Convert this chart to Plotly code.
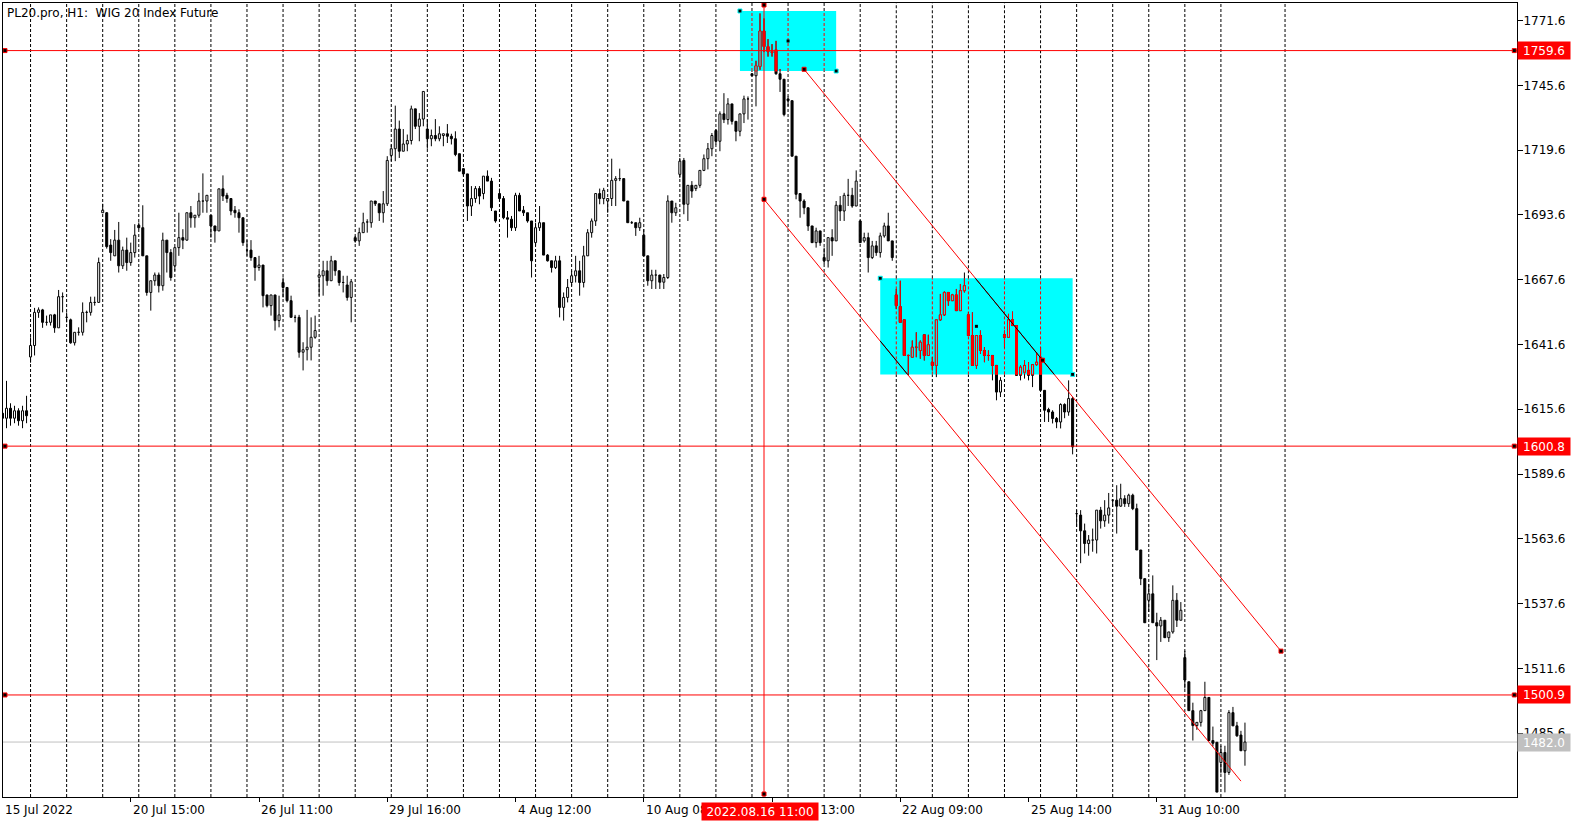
import plotly.graph_objects as go

# ---------------- data ----------------
trading_days = ["2022-07-15", "2022-07-18", "2022-07-19", "2022-07-20", "2022-07-21", "2022-07-22",
                "2022-07-25", "2022-07-26", "2022-07-27", "2022-07-28", "2022-07-29",
                "2022-08-01", "2022-08-02", "2022-08-03", "2022-08-04", "2022-08-05",
                "2022-08-08", "2022-08-09", "2022-08-10", "2022-08-11", "2022-08-12",
                "2022-08-16", "2022-08-17", "2022-08-18", "2022-08-19",
                "2022-08-22", "2022-08-23", "2022-08-24", "2022-08-25", "2022-08-26",
                "2022-08-29", "2022-08-30", "2022-08-31", "2022-09-01", "2022-09-02"]
session_hours = [8, 9, 10, 11, 12, 13, 14, 15, 16]
first_bar_time = "2022-07-15 10:00"
last_bar_time = "2022-09-02 14:00"

opens = [
    1614.0, 1612.0, 1616.0, 1612.0, 1615.0, 1611.0, 1615.0,
    1636.6, 1641.2, 1654.5, 1655.5, 1650.5, 1650.5, 1653.5, 1648.3, 1660.8,
    1652.5, 1651.5, 1642.3, 1646.5, 1646.5, 1654.5, 1654.5, 1658.5, 1658.5,
    1694.5, 1694.5, 1681.5, 1677.2, 1683.5, 1673.2, 1679.5, 1674.5, 1678.5,
    1689.5, 1688.5, 1677.2, 1662.5, 1667.2, 1669.5, 1665.2, 1683.5, 1678.5,
    1673.2, 1680.5, 1684.5, 1683.5, 1694.5, 1692.5, 1693.5, 1699.2, 1699.2,
    1693.5, 1689.2, 1687.2, 1704.1, 1701.5, 1700.2, 1695.5, 1694.5, 1692.5,
    1679.5, 1679.5, 1676.5, 1672.5, 1673.5, 1661.5, 1657.2, 1661.5, 1651.2,
    1666.5, 1664.5, 1659.2, 1652.5, 1652.5, 1638.5, 1639.5, 1640.5, 1644.5,
    1668.6, 1669.2, 1671.2, 1667.2, 1675.2, 1671.2, 1666.5, 1665.5, 1660.5,
    1684.5, 1683.2, 1686.5, 1690.8, 1690.5, 1699.2, 1698.1, 1694.5, 1698.1,
    1717.5, 1720.2, 1728.1, 1719.2, 1722.1, 1723.5, 1736.2, 1729.2, 1732.1,
    1728.1, 1724.2, 1725.5, 1724.2, 1725.5, 1726.2, 1725.2, 1724.2, 1718.2,
    1712.2, 1710.1, 1697.2, 1700.2, 1704.2, 1702.2, 1709.2, 1707.2, 1695.2,
    1702.2, 1700.2, 1692.5, 1691.9, 1688.5, 1701.5, 1695.5, 1694.5, 1691.2,
    1682.5, 1688.5, 1690.5, 1677.5, 1675.2, 1672.5, 1675.2, 1656.5, 1660.5,
    1666.5, 1669.2, 1671.2, 1666.5, 1677.2, 1686.5, 1691.2, 1702.2, 1700.2,
    1699.2, 1700.2, 1707.5, 1708.2, 1708.2, 1699.2, 1690.5, 1690.5, 1688.5,
    1685.5, 1677.2, 1667.2, 1669.5, 1669.5, 1666.6, 1668.5, 1699.2, 1694.5,
    1709.9, 1715.5, 1697.9, 1705.5, 1704.2, 1705.5, 1711.5, 1716.2, 1720.2,
    1727.5, 1723.2, 1734.2, 1731.9, 1738.2, 1731.2, 1727.2, 1734.2, 1740.2,
    1750.3, 1749.5, 1753.2, 1767.5, 1761.2, 1759.2, 1759.9, 1750.3, 1748.1,
    1740.2, 1739.5, 1717.2, 1702.2, 1699.2, 1696.5, 1689.2, 1682.5, 1687.2,
    1676.5, 1675.2, 1684.5, 1683.2, 1697.5, 1695.2, 1701.5, 1701.5, 1697.2,
    1691.2, 1683.2, 1684.5, 1676.5, 1681.2, 1678.5, 1685.2, 1689.2, 1683.2,
    1661.5, 1656.8, 1651.5, 1637.2, 1636.5, 1640.5, 1639.2, 1645.5, 1637.2,
    1634.5, 1633.2, 1651.5, 1653.5, 1662.5, 1659.2, 1661.5, 1655.2, 1663.2,
    1653.5, 1645.2, 1633.2, 1645.2, 1639.2, 1637.2, 1637.2, 1633.2, 1622.5,
    1645.5, 1644.5, 1651.5, 1649.2, 1629.2, 1630.5, 1631.2, 1629.2, 1633.5,
    1636.5, 1623.2, 1615.5, 1614.5, 1611.9, 1610.5, 1617.5, 1614.5, 1619.9,
    1573.7, 1573.1, 1566.8, 1561.7, 1563.1, 1563.1, 1575.1, 1570.8, 1573.1,
    1579.1, 1579.1, 1576.7, 1579.7, 1577.7, 1581.1, 1575.7, 1559.1, 1547.6,
    1538.9, 1541.5, 1529.9, 1528.6, 1530.9, 1523.9, 1526.2, 1538.9, 1530.9,
    1515.9, 1506.2, 1494.6, 1488.6, 1489.9, 1494.6, 1499.9, 1482.6, 1481.9,
    1473.8, 1477.8, 1469.8, 1493.8, 1488.5, 1484.8, 1478.5,
]
highs = [
    1618.0, 1627.0, 1618.0, 1617.0, 1616.0, 1617.0, 1621.0,
    1644.5, 1656.3, 1656.5, 1655.9, 1653.2, 1653.5, 1653.9, 1663.5, 1662.5,
    1654.5, 1652.0, 1646.5, 1648.5, 1658.5, 1655.2, 1660.8, 1660.8, 1676.5,
    1698.1, 1694.8, 1683.9, 1687.6, 1690.8, 1680.9, 1684.5, 1682.5, 1689.9,
    1690.6, 1697.5, 1677.2, 1667.2, 1670.5, 1670.5, 1686.5, 1683.5, 1679.9,
    1680.5, 1694.5, 1687.9, 1694.5, 1697.2, 1693.5, 1702.5, 1710.3, 1701.5,
    1693.5, 1689.2, 1704.1, 1709.5, 1702.5, 1700.2, 1697.2, 1695.9, 1692.5,
    1683.5, 1683.5, 1676.5, 1677.2, 1673.5, 1661.5, 1661.5, 1661.5, 1661.2,
    1668.5, 1664.5, 1661.2, 1653.5, 1653.5, 1642.5, 1655.5, 1652.5, 1653.2,
    1670.8, 1675.2, 1675.2, 1677.2, 1675.2, 1671.2, 1669.2, 1669.2, 1667.9,
    1685.2, 1688.5, 1694.5, 1691.9, 1699.2, 1699.2, 1698.1, 1703.2, 1717.2,
    1721.9, 1737.5, 1731.5, 1728.1, 1725.9, 1737.5, 1736.2, 1734.5, 1743.2,
    1732.1, 1727.9, 1732.1, 1729.2, 1726.2, 1730.1, 1726.2, 1727.2, 1718.2,
    1712.2, 1710.1, 1705.2, 1705.2, 1705.2, 1709.2, 1711.5, 1708.5, 1695.2,
    1704.2, 1701.2, 1695.2, 1693.2, 1702.5, 1702.5, 1697.2, 1694.5, 1691.2,
    1690.5, 1697.2, 1690.5, 1677.9, 1675.2, 1677.2, 1677.2, 1662.5, 1667.9,
    1671.2, 1677.2, 1675.2, 1681.2, 1687.9, 1692.2, 1702.2, 1704.2, 1704.5,
    1700.2, 1716.2, 1709.2, 1712.2, 1708.2, 1699.2, 1691.2, 1690.5, 1692.5,
    1687.9, 1677.2, 1671.6, 1671.6, 1669.5, 1669.9, 1701.5, 1699.2, 1698.5,
    1716.5, 1716.5, 1705.5, 1707.2, 1705.5, 1711.5, 1717.9, 1722.5, 1726.5,
    1728.1, 1735.2, 1742.5, 1740.5, 1738.2, 1731.2, 1734.2, 1741.5, 1741.2,
    1750.5, 1755.5, 1774.5, 1772.5, 1764.2, 1762.2, 1763.5, 1752.2, 1748.1,
    1741.2, 1739.5, 1717.2, 1702.2, 1699.9, 1696.5, 1689.2, 1688.5, 1687.2,
    1680.5, 1684.5, 1687.9, 1699.2, 1701.2, 1702.5, 1708.1, 1704.5, 1711.5,
    1691.5, 1686.5, 1686.5, 1683.2, 1683.2, 1686.5, 1690.5, 1694.5, 1683.2,
    1663.9, 1667.2, 1651.5, 1637.5, 1643.2, 1646.5, 1643.2, 1645.5, 1645.5,
    1636.5, 1651.5, 1661.9, 1662.9, 1662.5, 1661.9, 1663.9, 1665.9, 1670.5,
    1654.5, 1654.5, 1645.2, 1647.2, 1640.5, 1639.2, 1637.2, 1633.2, 1628.5,
    1647.2, 1653.9, 1654.8, 1649.2, 1633.2, 1635.2, 1634.5, 1633.5, 1638.5,
    1640.5, 1623.2, 1616.2, 1615.2, 1612.5, 1618.0, 1618.0, 1627.2, 1620.5,
    1575.1, 1575.1, 1569.7, 1565.1, 1567.7, 1575.1, 1576.4, 1579.1, 1582.0,
    1579.4, 1585.1, 1585.7, 1581.1, 1581.7, 1581.7, 1577.7, 1559.1, 1547.6,
    1545.5, 1548.9, 1533.9, 1532.2, 1530.9, 1526.2, 1544.9, 1541.8, 1538.2,
    1518.6, 1506.2, 1497.8, 1489.9, 1494.9, 1506.2, 1499.9, 1488.2, 1481.9,
    1480.5, 1480.5, 1494.8, 1496.1, 1490.1, 1486.5, 1489.8,
]
lows = [
    1609.0, 1608.0, 1609.0, 1610.0, 1609.0, 1608.0, 1610.0,
    1634.3, 1637.2, 1652.3, 1648.3, 1649.2, 1649.2, 1646.3, 1648.3, 1654.5,
    1650.5, 1641.9, 1641.2, 1645.2, 1645.2, 1650.5, 1653.2, 1657.2, 1658.5,
    1694.5, 1680.1, 1675.2, 1677.2, 1670.5, 1671.9, 1671.2, 1673.2, 1676.5,
    1687.9, 1677.2, 1661.2, 1655.2, 1665.2, 1662.5, 1663.2, 1670.5, 1667.2,
    1671.2, 1677.2, 1679.9, 1683.2, 1688.5, 1688.5, 1692.5, 1694.5, 1694.5,
    1684.5, 1682.5, 1687.2, 1699.2, 1698.5, 1693.5, 1692.5, 1686.5, 1681.2,
    1677.2, 1675.2, 1667.2, 1671.2, 1656.5, 1656.5, 1653.2, 1647.2, 1648.5,
    1660.5, 1658.5, 1652.5, 1650.5, 1636.3, 1631.2, 1635.2, 1635.2, 1643.9,
    1661.2, 1661.2, 1665.2, 1667.2, 1669.2, 1665.2, 1662.5, 1659.2, 1650.5,
    1682.5, 1681.2, 1686.5, 1686.5, 1688.5, 1697.2, 1691.2, 1690.5, 1697.2,
    1715.2, 1715.2, 1716.5, 1719.2, 1719.2, 1721.9, 1728.1, 1723.2, 1729.2,
    1720.2, 1721.2, 1723.2, 1723.2, 1721.2, 1722.5, 1721.9, 1717.2, 1711.2,
    1709.2, 1691.2, 1693.2, 1698.5, 1697.9, 1699.9, 1707.2, 1695.2, 1690.5,
    1699.2, 1691.9, 1684.5, 1687.2, 1687.2, 1695.2, 1693.2, 1690.5, 1668.5,
    1681.2, 1687.2, 1677.5, 1674.9, 1670.5, 1671.9, 1652.5, 1651.2, 1658.5,
    1665.2, 1666.5, 1661.2, 1664.5, 1677.2, 1684.5, 1689.2, 1697.9, 1697.9,
    1694.5, 1697.2, 1697.2, 1707.2, 1699.2, 1690.5, 1690.0, 1685.2, 1687.2,
    1677.2, 1665.2, 1663.9, 1663.9, 1663.9, 1663.9, 1667.9, 1690.5, 1693.2,
    1708.5, 1693.9, 1691.2, 1700.5, 1703.2, 1704.5, 1711.2, 1711.9, 1717.2,
    1721.9, 1719.2, 1730.5, 1729.9, 1729.9, 1723.2, 1725.2, 1730.5, 1731.9,
    1749.3, 1737.2, 1751.9, 1759.0, 1757.2, 1757.2, 1749.9, 1743.0, 1733.2,
    1737.2, 1717.2, 1699.9, 1692.5, 1693.9, 1687.2, 1682.5, 1680.5, 1681.2,
    1673.9, 1672.5, 1677.2, 1683.2, 1691.2, 1691.2, 1697.2, 1696.5, 1697.2,
    1682.5, 1682.5, 1670.5, 1675.9, 1677.2, 1676.5, 1684.5, 1683.2, 1675.2,
    1655.9, 1650.5, 1637.2, 1629.2, 1636.5, 1636.5, 1635.9, 1635.2, 1637.2,
    1631.2, 1628.5, 1651.2, 1653.2, 1657.2, 1659.2, 1655.2, 1655.2, 1662.5,
    1645.2, 1633.2, 1631.9, 1637.9, 1634.5, 1635.2, 1627.2, 1619.2, 1620.5,
    1640.5, 1644.5, 1649.2, 1629.2, 1627.2, 1627.9, 1627.2, 1624.5, 1633.2,
    1623.2, 1610.5, 1610.5, 1609.9, 1608.0, 1607.9, 1612.0, 1613.0, 1597.5,
    1568.4, 1553.8, 1557.7, 1556.8, 1558.4, 1557.7, 1567.7, 1568.4, 1569.7,
    1576.4, 1565.7, 1576.4, 1576.4, 1576.4, 1575.1, 1559.1, 1545.0, 1529.9,
    1534.2, 1529.9, 1514.9, 1522.2, 1523.9, 1522.2, 1525.5, 1528.2, 1530.9,
    1503.5, 1494.6, 1482.6, 1486.9, 1488.2, 1494.6, 1482.6, 1480.2, 1461.9,
    1469.4, 1461.8, 1468.8, 1488.5, 1484.1, 1478.5, 1472.5,
]
closes = [
    1612.0, 1616.0, 1612.0, 1615.0, 1611.0, 1615.0, 1613.0,
    1641.2, 1654.5, 1655.5, 1650.5, 1650.6, 1653.5, 1648.3, 1660.8, 1660.9,
    1652.6, 1642.3, 1646.5, 1646.6, 1654.5, 1654.6, 1658.5, 1658.6, 1674.5,
    1695.5, 1680.9, 1678.5, 1683.5, 1673.2, 1679.5, 1674.5, 1678.5, 1685.5,
    1688.5, 1677.2, 1662.5, 1667.2, 1669.5, 1665.2, 1683.5, 1678.5, 1668.5,
    1680.5, 1684.5, 1683.5, 1694.5, 1692.5, 1693.5, 1699.2, 1699.3, 1701.5,
    1689.2, 1687.2, 1704.1, 1701.2, 1700.2, 1695.2, 1694.5, 1692.5, 1682.5,
    1679.6, 1676.5, 1672.5, 1673.5, 1661.2, 1657.2, 1661.5, 1651.2, 1653.5,
    1664.5, 1659.2, 1652.5, 1652.6, 1638.5, 1639.5, 1640.5, 1644.5, 1647.2,
    1669.5, 1671.2, 1667.2, 1675.2, 1671.2, 1666.5, 1666.6, 1660.5, 1666.8,
    1683.2, 1686.5, 1690.5, 1690.9, 1699.2, 1698.1, 1694.5, 1698.1, 1715.5,
    1720.2, 1728.1, 1719.2, 1722.1, 1723.5, 1736.2, 1729.2, 1732.1, 1743.2,
    1724.2, 1725.5, 1724.2, 1726.2, 1726.2, 1725.2, 1724.2, 1717.9, 1711.2,
    1710.1, 1697.2, 1700.2, 1704.2, 1701.2, 1709.2, 1707.2, 1696.5, 1691.2,
    1700.2, 1692.5, 1691.9, 1688.5, 1701.5, 1695.2, 1694.5, 1691.2, 1675.2,
    1688.5, 1690.5, 1677.5, 1675.2, 1672.5, 1675.2, 1656.5, 1660.5, 1664.5,
    1669.2, 1671.2, 1666.5, 1677.2, 1686.5, 1691.2, 1702.2, 1700.2, 1703.5,
    1700.2, 1707.5, 1708.2, 1708.3, 1699.2, 1690.5, 1690.6, 1688.5, 1690.5,
    1677.2, 1667.2, 1669.5, 1669.6, 1666.6, 1668.5, 1699.2, 1694.5, 1696.5,
    1715.2, 1697.9, 1705.5, 1703.2, 1705.5, 1711.5, 1716.2, 1720.2, 1725.5,
    1723.2, 1734.2, 1731.9, 1738.2, 1731.2, 1727.2, 1734.2, 1740.2, 1740.3,
    1749.5, 1753.5, 1767.5, 1761.2, 1759.2, 1758.8, 1750.3, 1748.1, 1733.9,
    1739.5, 1717.2, 1701.9, 1699.2, 1696.5, 1689.2, 1682.5, 1687.2, 1682.5,
    1675.2, 1684.5, 1683.2, 1697.5, 1695.2, 1701.5, 1701.6, 1697.2, 1707.2,
    1682.5, 1684.5, 1676.5, 1681.2, 1678.5, 1685.2, 1689.2, 1683.2, 1676.5,
    1657.2, 1650.5, 1637.2, 1637.3, 1640.5, 1640.6, 1642.5, 1637.2, 1641.5,
    1633.2, 1651.5, 1653.5, 1662.5, 1659.2, 1661.5, 1655.2, 1663.2, 1665.2,
    1645.2, 1633.2, 1645.2, 1639.2, 1637.2, 1637.3, 1633.2, 1622.5, 1627.2,
    1644.5, 1651.5, 1649.2, 1629.2, 1632.5, 1633.2, 1629.2, 1633.5, 1634.5,
    1623.2, 1615.2, 1614.5, 1611.9, 1610.5, 1617.5, 1614.5, 1619.9, 1600.5,
    1573.8, 1566.8, 1561.7, 1563.1, 1563.2, 1575.1, 1570.8, 1573.1, 1576.0,
    1579.2, 1576.7, 1579.7, 1577.7, 1581.1, 1575.7, 1559.1, 1547.6, 1529.9,
    1541.5, 1529.9, 1528.6, 1530.9, 1523.9, 1526.2, 1538.9, 1530.9, 1534.9,
    1506.9, 1494.6, 1488.6, 1489.9, 1494.6, 1499.9, 1482.6, 1481.5, 1461.9,
    1477.8, 1469.8, 1493.8, 1488.5, 1484.5, 1478.5, 1482.0,
]

price_ticks = [1771.6, 1745.6, 1719.6, 1693.6, 1667.6, 1641.6, 1615.6, 1589.6, 1563.6, 1537.6, 1511.6, 1485.6]
time_label_times = ["2022-07-20 15:00", "2022-07-26 11:00", "2022-07-29 16:00", "2022-08-04 12:00",
                    "2022-08-10 08:00", "2022-08-16 13:00", "2022-08-22 09:00", "2022-08-25 14:00",
                    "2022-08-31 10:00"]
time_label_texts = ["20 Jul 15:00", "26 Jul 11:00", "29 Jul 16:00", "4 Aug 12:00", "10 Aug 08:00",
                    "16 Aug 13:00", "22 Aug 09:00", "25 Aug 14:00", "31 Aug 10:00"]
first_label_text = "15 Jul 2022"
title_text = "PL20.pro, H1:  WIG 20 Index Future"

horizontal_levels = [1759.6, 1600.8, 1500.9]
bid_price = 1482.0
vline_time = "2022-08-16 11:00"
vline_text = "2022.08.16 11:00"
# rectangles: (start time, end time, top price, bottom price)
rectangles = [("2022-08-12 14:00", "2022-08-18 11:00", 1775.5, 1751.4),
              ("2022-08-19 13:00", "2022-08-26 16:00", 1668.2, 1629.6)]
# equidistant channel
chan_lower_start = ("2022-08-16 11:00", 1699.9)
chan_upper_start = ("2022-08-17 12:00", 1752.1)
chan_length_bars = 119
chan_upper_end_price = 1518.5
chan_mid_anchor_offset = 59.5

# ---------------- geometry ----------------
BLACK, RED, CYAN, SILVER = "#000000", "#FF0000", "#00FFFF", "#C0C0C0"
FONT = "DejaVu Sans"
X0, X1 = 2.125, 379.875          # bar-index range of the plot area
PPU = 2.4908                      # pixels per price unit
Y1 = 1778.706
Y0 = Y1 - 794 / PPU
PXU = 0.25                        # one pixel in bar units (4 px per bar)

slot_times = [f"{d} {h:02d}:00" for d in trading_days for h in session_hours]
slot_index = {t: k for k, t in enumerate(slot_times)}
i_first, i_last = slot_index[first_bar_time], slot_index[last_bar_time]
bar_x = list(range(i_first, i_last + 1))
assert len(bar_x) == len(opens) == len(highs) == len(lows) == len(closes)

separators = [slot_index[f"{d} 08:00"] for d in trading_days[1:]] + [i_last + 10]
rects = [(slot_index[a], slot_index[b], t, bt) for a, b, t, bt in rectangles]


def seg_xy(segs):
    xs, ys = [], []
    for x0, y0, x1, y1 in segs:
        xs += [x0, x1, None]
        ys += [y0, y1, None]
    return xs, ys


def box_xy(items):
    xs, ys = [], []
    for x, lo, hi in items:
        xs += [x - PXU, x + PXU, x + PXU, x - PXU, x - PXU, None]
        ys += [lo, lo, hi, hi, lo, None]
    return xs, ys


fig = go.Figure()


def add_lines(segs, color, width=1, dash=None):
    xs, ys = seg_xy(segs)
    fig.add_trace(go.Scatter(x=xs, y=ys, mode="lines", hoverinfo="skip",
                             line=dict(color=color, width=width, dash=dash)))


def add_boxes(items, line_color, fill_color):
    xs, ys = box_xy(items)
    fig.add_trace(go.Scatter(x=xs, y=ys, mode="lines", fill="toself", fillcolor=fill_color,
                             hoverinfo="skip", line=dict(color=line_color, width=1)))


# bid line
add_lines([(X0, bid_price, X1, bid_price)], SILVER)

# day separators (red inside rectangles)
DASH = "3px,2px"
black_sep, red_sep = [], []
for s in separators:
    cuts = sorted([(bt, t) for (l, r, t, bt) in rects if l < s < r])
    y = Y0
    for lo, hi in cuts:
        black_sep.append((s, y, s, lo))
        red_sep.append((s, lo, s, hi))
        y = hi
    black_sep.append((s, y, s, Y1))
add_lines(black_sep, BLACK, 1, DASH)
add_lines(red_sep, RED, 1, DASH)

# candles
wicks, bulls, bears = [], [], []
for x, o, h, l, c in zip(bar_x, opens, highs, lows, closes):
    lo, hi = min(o, c), max(o, c)
    if h > hi:
        wicks.append((x, hi, x, h))
    if l < lo:
        wicks.append((x, l, x, lo))
    (bears if c < o else bulls).append((x, lo, hi))
add_lines(wicks, BLACK)
add_boxes(bulls, BLACK, "#FFFFFF")
add_boxes(bears, BLACK, BLACK)

# inverted colours inside the rectangles
r_wicks, r_bulls, r_bears = [], [], []
for (l, r, top, bot) in rects:
    for x, o, h, lw, c in zip(bar_x, opens, highs, lows, closes):
        if not (l <= x <= r):
            continue
        lo, hi = min(o, c), max(o, c)
        for a, b in ((hi, h), (lw, lo)):
            a2, b2 = max(a, bot), min(b, top)
            if b2 > a2:
                r_wicks.append((x, a2, x, b2))
        lo2, hi2 = max(lo, bot), min(hi, top)
        if hi2 >= lo2:
            (r_bears if c < o else r_bulls).append((x, lo2, hi2))
add_lines(r_wicks, RED)
add_boxes(r_bulls, RED, CYAN)
add_boxes(r_bears, RED, RED)

# channel
slope = (chan_upper_end_price - chan_upper_start[1]) / chan_length_bars
ux0, uy0 = slot_index[chan_upper_start[0]], chan_upper_start[1]
lx0, ly0 = slot_index[chan_lower_start[0]], chan_lower_start[1]
upper = (ux0, uy0, ux0 + chan_length_bars, uy0 + slope * chan_length_bars)
lower = (lx0, ly0, lx0 + chan_length_bars, ly0 + slope * chan_length_bars)
add_lines([upper, lower], RED)


def clip(seg, l, r, top, bot):
    x0, y0, x1, y1 = seg
    t0, t1 = 0.0, 1.0
    for p, q in ((-(x1 - x0), x0 - l), (x1 - x0, r - x0), (-(y1 - y0), y0 - bot), (y1 - y0, top - y0)):
        if p == 0:
            if q < 0:
                return None
            continue
        t = q / p
        if p < 0:
            t0 = max(t0, t)
        else:
            t1 = min(t1, t)
    if t0 >= t1:
        return None
    return (x0 + t0 * (x1 - x0), y0 + t0 * (y1 - y0), x0 + t1 * (x1 - x0), y0 + t1 * (y1 - y0))


inside = []
for (l, r, top, bot) in rects:
    for sg in (upper, lower):
        cs = clip(sg, l, r, top, bot)
        if cs:
            inside.append(cs)
add_lines(inside, BLACK)

# horizontal and vertical lines
add_lines([(X0, v, X1, v) for v in horizontal_levels], RED)
vx = slot_index[vline_time]
add_lines([(vx, Y0, vx, Y1)], RED)

# object anchor markers
def add_markers(xs, ys, border, size=4):
    fig.add_trace(go.Scatter(x=xs, y=ys, mode="markers", hoverinfo="skip",
                             marker=dict(symbol="square", size=size, color=BLACK,
                                         line=dict(color=border, width=1 if border else 0))))

mk_x, mk_y = [], []
for v in horizontal_levels:
    mk_x += [X0 + 2 * PXU, X1 - 2.7 * PXU]
    mk_y += [v, v]
mk_x += [vx, vx]
mk_y += [Y1 - 2 / PPU, Y0 + 3 / PPU]
mk_x += [lx0, ux0, ux0 + chan_mid_anchor_offset, upper[2]]
mk_y += [ly0, uy0, uy0 + slope * chan_mid_anchor_offset, upper[3]]
add_markers(mk_x, mk_y, RED)
add_markers([v for (l, r, t, b) in rects for v in (l, r)],
            [v for (l, r, t, b) in rects for v in (t, b)], CYAN)
add_markers([(l + r) / 2 for (l, r, t, b) in rects], [(t + b) / 2 for (l, r, t, b) in rects], None, 3)

# ---------------- layout ----------------
tick_x = [slot_index[t] for t in time_label_times]
fig.update_layout(
    width=1584, height=825,
    margin=dict(l=3, r=67, t=3, b=28),
    paper_bgcolor="#FFFFFF", plot_bgcolor="#FFFFFF",
    showlegend=False, hovermode=False,
    font=dict(family=FONT, size=12, color=BLACK),
    xaxis=dict(range=[X0, X1], showgrid=False, zeroline=False, showline=True, mirror=True,
               linecolor=BLACK, linewidth=1, ticks="outside", ticklen=4, tickcolor=BLACK,
               tickvals=tick_x, showticklabels=False, fixedrange=True),
    yaxis=dict(range=[Y0, Y1], side="right", showgrid=False, zeroline=False, showline=True,
               mirror=True, linecolor=BLACK, linewidth=1, ticks="outside", ticklen=5,
               tickcolor=BLACK, tickvals=price_ticks, ticktext=[f"{v:.1f}" for v in price_ticks],
               tickfont=dict(family=FONT, size=12, color=BLACK), ticklabelstandoff=-2,
               fixedrange=True),
)

ann = []
ann.append(dict(text=title_text, xref="paper", yref="paper", x=0.0010, y=0.9874,
                xanchor="left", yanchor="middle", showarrow=False,
                font=dict(family=FONT, size=12, color=BLACK)))
LBL_Y = (797 - 810) / 794
ann.append(dict(text=first_label_text, xref="paper", yref="paper", x=0.0, y=LBL_Y,
                xanchor="left", yanchor="middle", showarrow=False))
for tx, tt in zip(tick_x, time_label_texts):
    ann.append(dict(text=tt, xref="x", yref="paper", x=tx, y=LBL_Y, xanchor="left",
                    yanchor="middle", showarrow=False))
PX_LBL = (1513.8 - 3) / 1511
for v in horizontal_levels:
    ann.append(dict(text=f"{v:.1f}", xref="paper", yref="y", x=PX_LBL, y=v, xanchor="left",
                    yanchor="middle", showarrow=False, bgcolor=RED, width=48, height=13,
                    borderpad=2, align="center", font=dict(family=FONT, size=12, color="#FFFFFF")))
ann.append(dict(text=f"{bid_price:.1f}", xref="paper", yref="y", x=PX_LBL, y=bid_price,
                xanchor="left", yanchor="middle", showarrow=False, bgcolor=SILVER, width=48,
                height=13, borderpad=2, align="center",
                font=dict(family=FONT, size=12, color="#FFFFFF")))
ann.append(dict(text=vline_text, xref="x", yref="paper", x=vx - 1.0, y=(797 - 811.5) / 794,
                xanchor="center", yanchor="middle", showarrow=False, bgcolor=RED, width=112,
                height=13, borderpad=2, align="center",
                font=dict(family=FONT, size=12, color="#FFFFFF")))
fig.update_layout(annotations=ann)

# cyan rectangles (below everything)
for (l, r, t, b) in rects:
    fig.add_shape(type="rect", xref="x", yref="y", x0=l, x1=r, y0=b, y1=t,
                  fillcolor=CYAN, line=dict(width=0), layer="below")

fig.write_html("out.html", config={"displayModeBar": False},
               post_script="document.body.style.margin='0px';")
